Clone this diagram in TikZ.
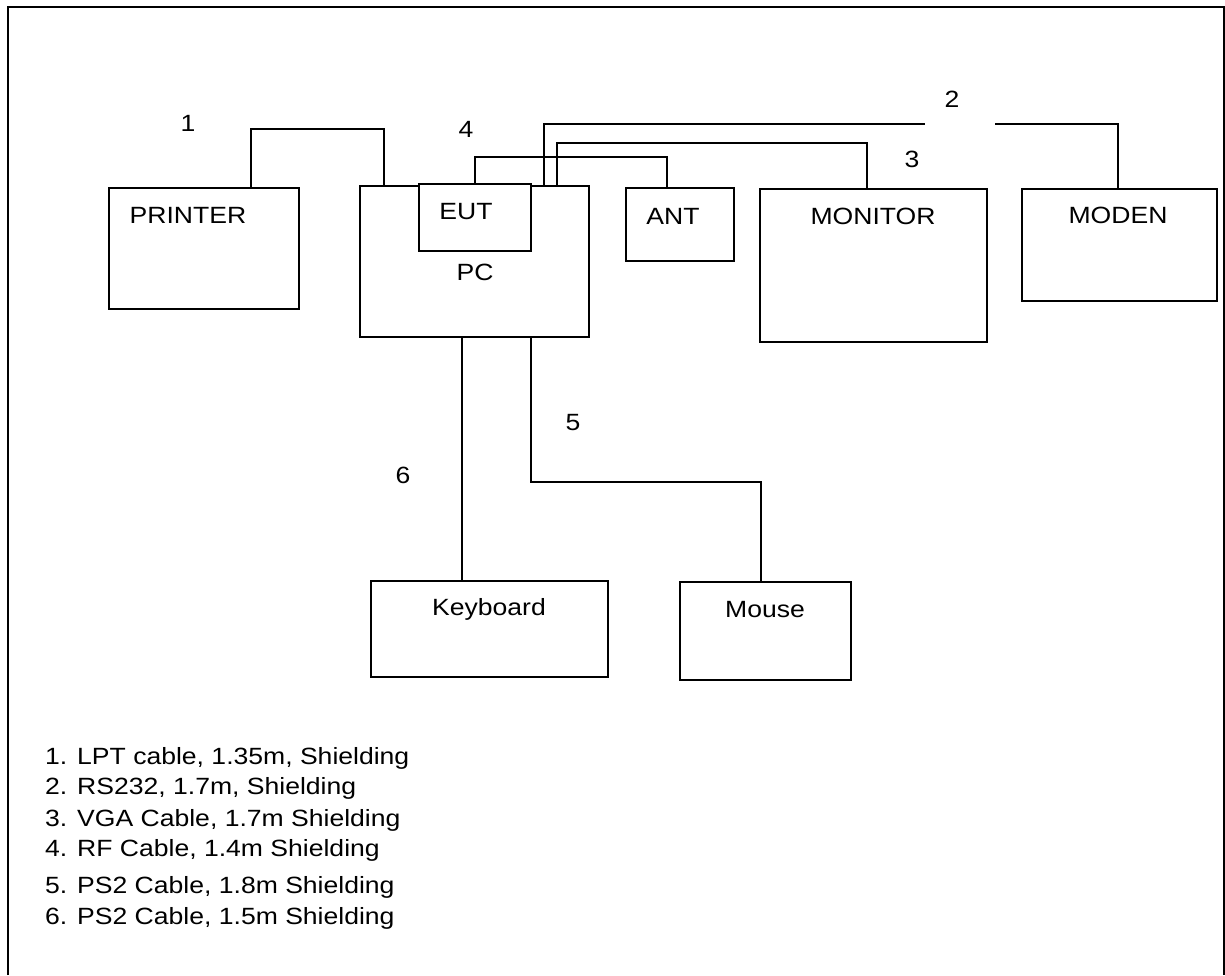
\documentclass[tikz,border=0pt]{standalone}
\usepackage{fontspec}
\setmainfont{Liberation Sans}[FakeStretch=1.13]
\usepackage{tikz}

\begin{document}
\begin{tikzpicture}[x=1pt, y=-1pt,
    box/.style={draw, line width=2pt, fill=white, inner sep=0pt, outer sep=0pt, anchor=north west},
    cable/.style={line width=1.5pt},
    txt/.style={anchor=base, inner sep=0pt, font=\fontsize{23.5}{28}\selectfont}]
            \useasboundingbox (0,0) rectangle (1225,975);
            \draw[line width=2.4pt] (8,975) -- (8,7) -- (1224,7) -- (1224,975);
            % equipment
            \node[box, minimum width=190, minimum height=121] (printer) at (109,188) {};
            \node[box, minimum width=229, minimum height=151] (pc) at (360,186) {};
            \node[box, minimum width=112, minimum height=67] (eut) at (419,184) {};
            \node[box, minimum width=108, minimum height=73] (ant) at (626,188) {};
            \node[box, minimum width=227, minimum height=153] (monitor) at (760,189) {};
            \node[box, minimum width=195, minimum height=112] (moden) at (1022,189) {};
            \node[box, minimum width=237, minimum height=96] (keyboard) at (371,581) {};
            \node[box, minimum width=171, minimum height=98] (mouse) at (680,582) {};
            \node[txt] (printertxt) at (188,223) {PRINTER};
            \node[txt] (euttxt) at (466,219) {EUT};
            \node[txt] (pctxt) at (475,280) {PC};
            \node[txt] (anttxt) at (673,224) {ANT};
            \node[txt] (monitortxt) at (873,224) {MONITOR};
            \node[txt] (modentxt) at (1118,223) {MODEN};
            \node[txt] (keyboardtxt) at (489,615) {Keyboard};
            \node[txt] (mousetxt) at (765,617) {Mouse};
            % cables
            \coordinate (c1l) at (251,129);
            \coordinate (c1r) at (384,129);
            \draw[cable] (printer.north -| c1l) -- (c1l) -- (c1r) -- (pc.north -| c1r);
            \coordinate (c2l) at (544,124);
            \coordinate (c2m) at (925,124);
            \coordinate (c2n) at (995,124);
            \coordinate (c2r) at (1118,124);
            \draw[cable] (pc.north -| c2l) -- (c2l) -- (c2m);
            \draw[cable] (c2n) -- (c2r) -- (moden.north -| c2r);
            \coordinate (c3l) at (557,143);
            \coordinate (c3r) at (867,143);
            \draw[cable] (pc.north -| c3l) -- (c3l) -- (c3r) -- (monitor.north -| c3r);
            \coordinate (c4l) at (475,157);
            \coordinate (c4r) at (667,157);
            \draw[cable] (eut.north -| c4l) -- (c4l) -- (c4r) -- (ant.north -| c4r);
            \coordinate (c5l) at (531,482);
            \coordinate (c5r) at (761,482);
            \draw[cable] (pc.south -| c5l) -- (c5l) -- (c5r) -- (mouse.north -| c5r);
            \coordinate (c6) at (462,460);
            \draw[cable] (pc.south -| c6) -- (keyboard.north -| c6);
            % cable numbers
            \node[txt] (n1) at (188,131) {1};
            \node[txt] (n2) at (952,107) {2};
            \node[txt] (n3) at (912,167) {3};
            \node[txt] (n4) at (466,137) {4};
            \node[txt] (n5) at (573,430) {5};
            \node[txt] (n6) at (403,483) {6};
            % legend
            \node[txt, anchor=base west] (leg1) at (45,764) {1. LPT cable, 1.35m, Shielding};
            \node[txt, anchor=base west] (leg2) at (45,794) {2. RS232, 1.7m, Shielding};
            \node[txt, anchor=base west] (leg3) at (45,826) {3. VGA Cable, 1.7m Shielding};
            \node[txt, anchor=base west] (leg4) at (45,856) {4. RF Cable, 1.4m Shielding};
            \node[txt, anchor=base west] (leg5) at (45,893) {5. PS2 Cable, 1.8m Shielding};
            \node[txt, anchor=base west] (leg6) at (45,924) {6. PS2 Cable, 1.5m Shielding};
        \end{tikzpicture}
\end{document}
